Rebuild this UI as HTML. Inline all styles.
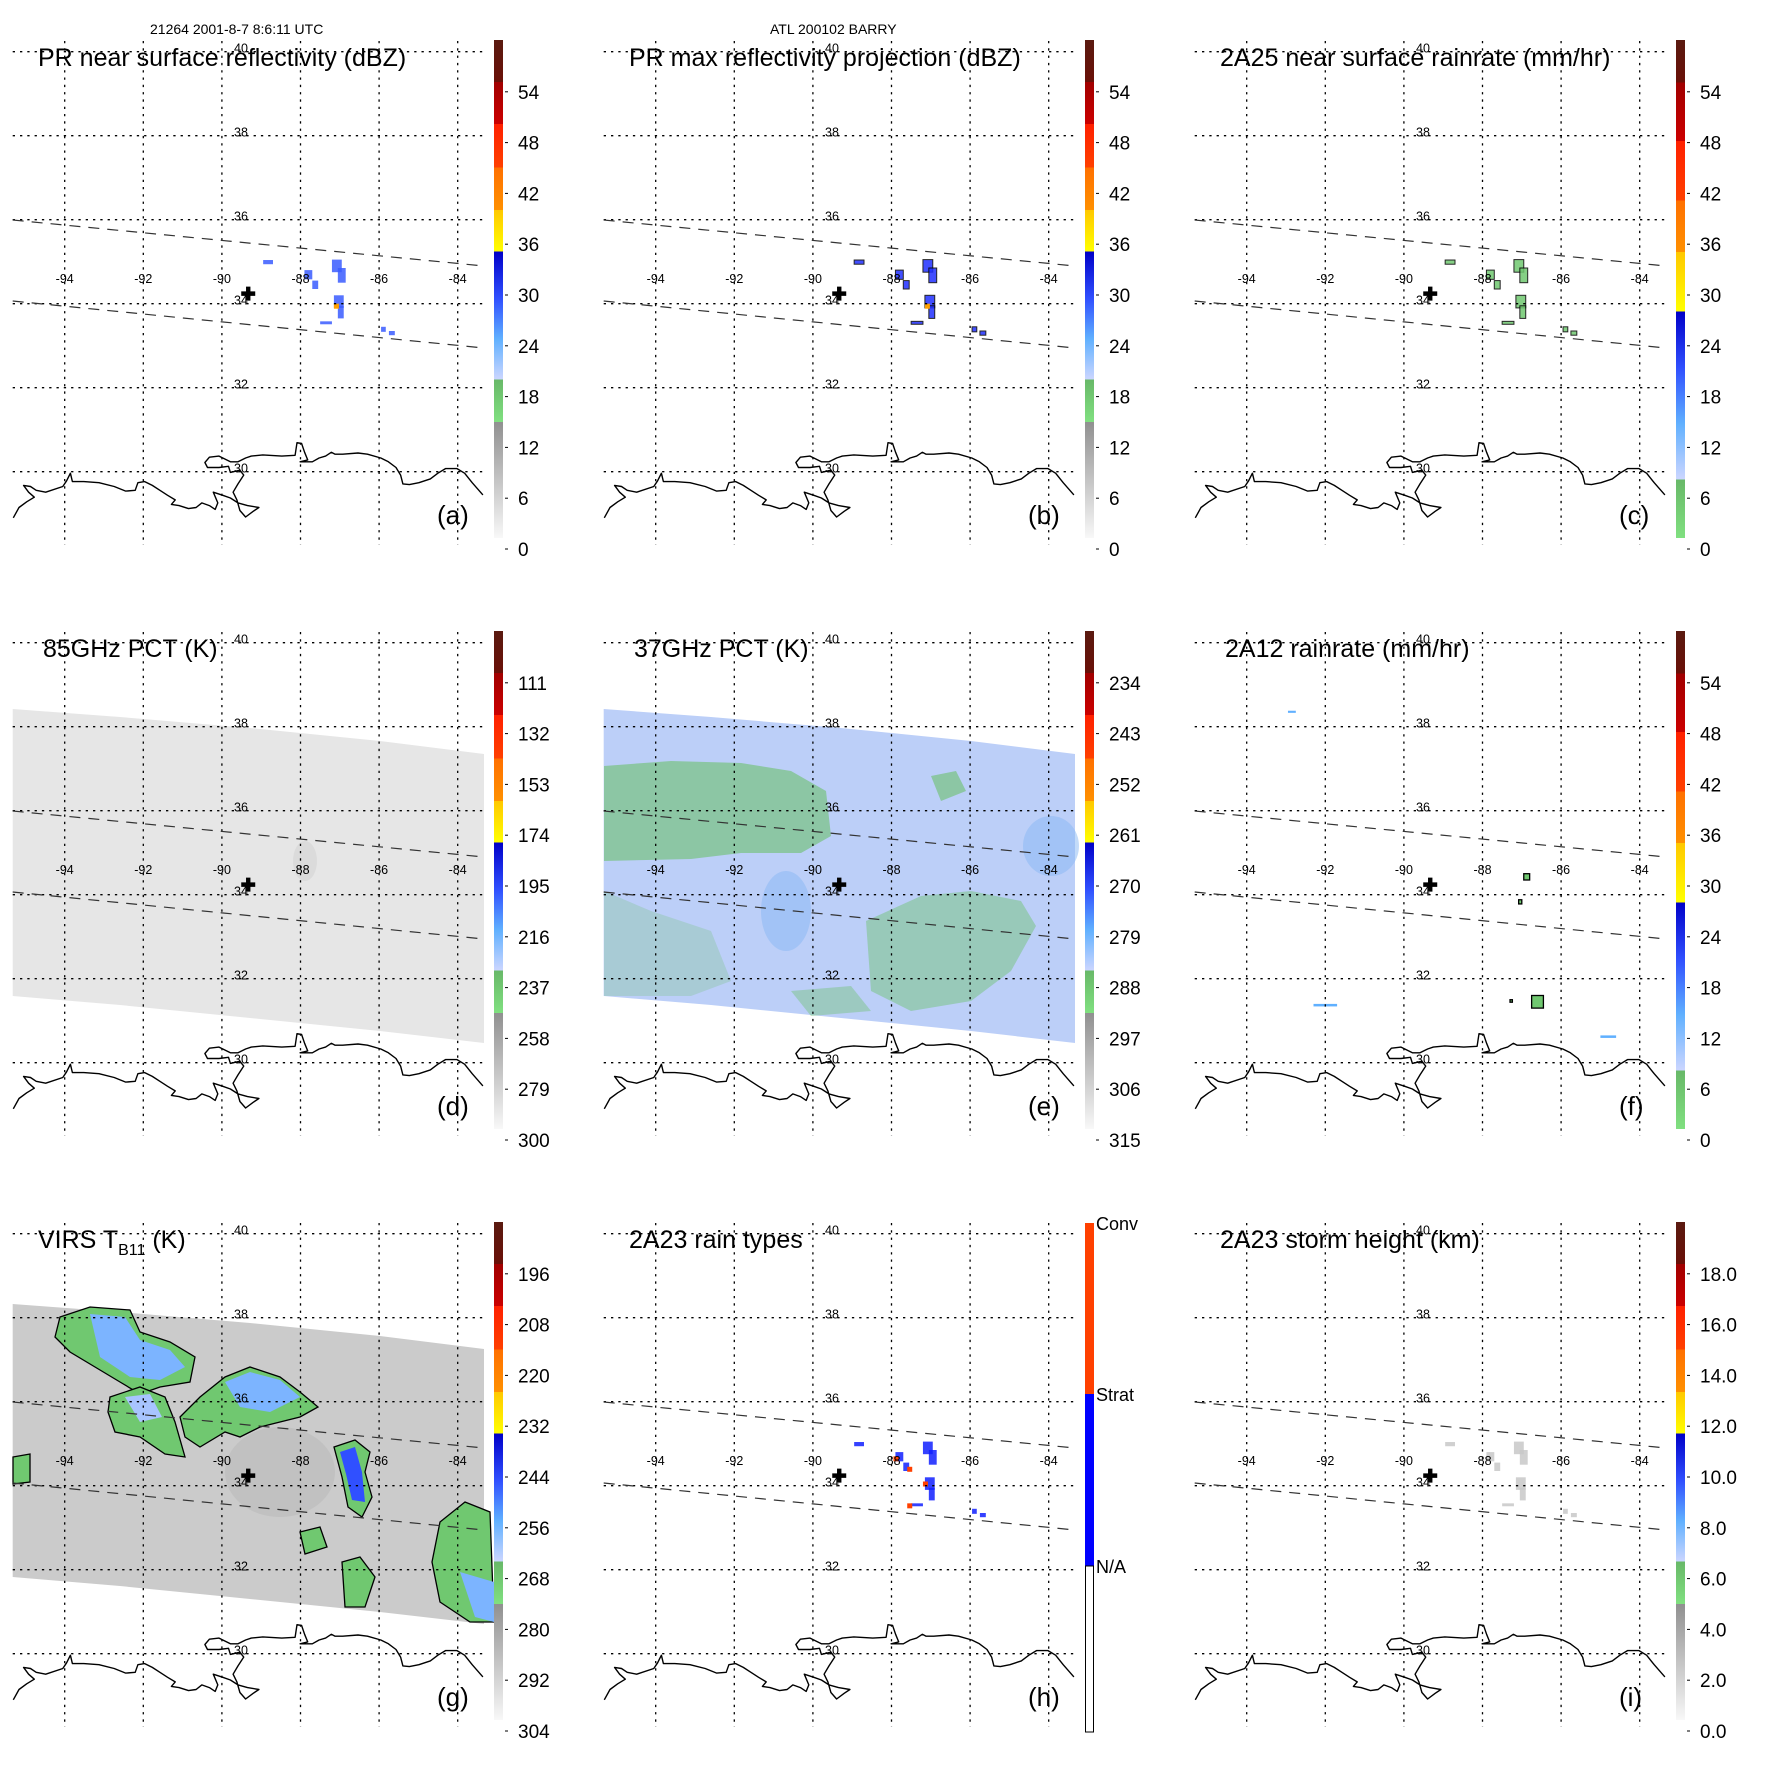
<!DOCTYPE html>
<html><head><meta charset="utf-8"><title>TRMM BARRY</title>
<style>
html,body{margin:0;padding:0;background:#fff;}
svg{display:block;font-family:"Liberation Sans",Arial,sans-serif;}
</style></head>
<body>
<svg id="fig" width="1771" height="1771" viewBox="0 0 1771 1771" xmlns="http://www.w3.org/2000/svg">
<defs>
<linearGradient id="barA" x1="0" y1="0" x2="0" y2="1">
<stop offset="0" stop-color="#5a1a10"/><stop offset="0.084" stop-color="#6a1008"/>
<stop offset="0.084" stop-color="#a00000"/><stop offset="0.169" stop-color="#cc0000"/>
<stop offset="0.169" stop-color="#ff2000"/><stop offset="0.256" stop-color="#ff4000"/>
<stop offset="0.256" stop-color="#ff7000"/><stop offset="0.341" stop-color="#ff9000"/>
<stop offset="0.341" stop-color="#ffc800"/><stop offset="0.425" stop-color="#ffff00"/>
<stop offset="0.425" stop-color="#0000c8"/><stop offset="0.52" stop-color="#3050ff"/><stop offset="0.6" stop-color="#60b0ff"/><stop offset="0.682" stop-color="#ccd6ff"/>
<stop offset="0.682" stop-color="#68b868"/><stop offset="0.767" stop-color="#80e080"/>
<stop offset="0.767" stop-color="#909090"/><stop offset="1" stop-color="#f8f8f8"/>
</linearGradient>
<linearGradient id="barC" x1="0" y1="0" x2="0" y2="1">
<stop offset="0" stop-color="#5a1a10"/><stop offset="0.085" stop-color="#6a1008"/>
<stop offset="0.085" stop-color="#a00000"/><stop offset="0.203" stop-color="#cc0000"/>
<stop offset="0.203" stop-color="#ff2000"/><stop offset="0.322" stop-color="#ff4000"/>
<stop offset="0.322" stop-color="#ff7000"/><stop offset="0.426" stop-color="#ff9000"/>
<stop offset="0.426" stop-color="#ffc800"/><stop offset="0.545" stop-color="#ffff00"/>
<stop offset="0.545" stop-color="#0000c8"/><stop offset="0.66" stop-color="#3050ff"/><stop offset="0.77" stop-color="#60b0ff"/><stop offset="0.883" stop-color="#ccd6ff"/>
<stop offset="0.883" stop-color="#68b868"/><stop offset="1" stop-color="#80e080"/>
</linearGradient>
</defs>
</svg>
<script>
// ---- data arrays ----
const lonTicks = [-94,-92,-90,-88,-86,-84];
const latTicks = [40,38,36,34,32,30];
const ticksA = ["0","6","12","18","24","30","36","42","48","54"];
const ticksD = ["300","279","258","237","216","195","174","153","132","111"];
const ticksE = ["315","306","297","288","279","270","261","252","243","234"];
const ticksG = ["304","292","280","268","256","244","232","220","208","196"];
const ticksI = ["0.0","2.0","4.0","6.0","8.0","10.0","12.0","14.0","16.0","18.0"];
const stormLon = -89.33, stormLat = 34.24;
// PR rain cells [lon, lat(top), width deg, height deg]
const prLon = [-88.95,-87.9,-87.7,-87.2,-87.05,-87.15,-87.05,-87.5,-85.95,-85.75];
const prLat = [35.04,34.8,34.55,35.05,34.85,34.2,33.95,33.58,33.45,33.35];
const prW = [0.25,0.2,0.15,0.25,0.2,0.25,0.15,0.3,0.12,0.15];
const prH = [0.1,0.22,0.2,0.3,0.35,0.3,0.3,0.07,0.12,0.1];
// 2A12 cells
const tmiLon = [-86.95,-87.08,-86.75,-87.3,-92.3,-85.0,-92.95];
const tmiLat = [34.5,33.88,31.6,31.5,31.4,30.65,38.38];
const tmiW = [0.15,0.08,0.3,0.06,0.6,0.4,0.2];
const tmiH = [0.15,0.1,0.3,0.06,0.06,0.06,0.05];
const tmiKind = ["g","g","g","g","b","b","b"];

const SVGNS="http://www.w3.org/2000/svg";
const svg=document.getElementById('fig');
function el(tag,attrs,parent){const e=document.createElementNS(SVGNS,tag);for(const k in attrs)e.setAttribute(k,attrs[k]);(parent||svg).appendChild(e);return e;}
function lonX(lon){return 64.7+(lon+94)*39.3;}
function latY(lat){return 51.7+(40-lat)*42;}
const X0=12.7,X1=484,Y0=41,Y1=545;
const coastZ=[[35,1357],[50,1330],[70,1315],[90,1303],[75,1290],[62,1272],[80,1275],[95,1285],[120,1290],[165,1275],[175,1260],[185,1240],[190,1262],[220,1262],[260,1265],[300,1275],[330,1287],[355,1285],[362,1265],[380,1262],[400,1272],[420,1285],[440,1298],[460,1310],[450,1322],[470,1325],[495,1333],[515,1330],[530,1318],[550,1325],[565,1335],[572,1318],[560,1290],[585,1298],[605,1305],[625,1318],[650,1325],[680,1330],[665,1340],[645,1355],[630,1338],[622,1310],[612,1290],[625,1268],[640,1245],[630,1232],[605,1238],[600,1222],[575,1225],[545,1225],[538,1212],[550,1198],[575,1195],[605,1210],[625,1210],[645,1200],[660,1195],[690,1192],[740,1195],[775,1193],[780,1160],[792,1162],[800,1185],[808,1205],[788,1210],[820,1210],[838,1200],[855,1195],[870,1185],[880,1190],[900,1190],[940,1187],[965,1190],[1000,1200],[1020,1210],[1040,1225],[1052,1245],[1058,1268],[1075,1270],[1100,1265],[1130,1255],[1150,1240],[1170,1228],[1200,1228],[1220,1240],[1240,1265],[1268,1297]];
const coastPts=coastZ.map(p=>(p[0]/2.626).toFixed(1)+','+(p[1]/2.626+1).toFixed(1)).join(' ');
function poly(g,pts,fill,stroke,op,name){const p=el('polygon',{points:pts.map(q=>q.join(',')).join(' '),fill:fill,stroke:stroke||'none','stroke-width':1.3,opacity:op||1},g);

return p;}

const panels=[
 {id:'a',col:0,row:0,title:'PR near surface reflectivity (dBZ)',bar:'A',ticks:ticksA,tx:38},
 {id:'b',col:1,row:0,title:'PR max reflectivity projection (dBZ)',bar:'A',ticks:ticksA,tx:38},
 {id:'c',col:2,row:0,title:'2A25 near surface rainrate (mm/hr)',bar:'C',ticks:ticksA,tx:38},
 {id:'d',col:0,row:1,title:'85GHz PCT (K)',bar:'A',ticks:ticksD,tx:43},
 {id:'e',col:1,row:1,title:'37GHz PCT (K)',bar:'A',ticks:ticksE,tx:43},
 {id:'f',col:2,row:1,title:'2A12 rainrate (mm/hr)',bar:'C',ticks:ticksA,tx:43},
 {id:'g',col:0,row:2,title:'VIRS',bar:'A',ticks:ticksG,tx:38},
 {id:'h',col:1,row:2,title:'2A23 rain types',bar:'H',ticks:null,tx:38},
 {id:'i',col:2,row:2,title:'2A23 storm height (km)',bar:'A',ticks:ticksI,tx:38}
];
const swath=[[X0,118],[120,126],[250,137],[380,150],[X1,163],[X1,452],[380,440],[250,427],[120,414],[X0,405]];

panels.forEach(P=>{
 const g=el('g',{transform:`translate(${P.col*591},${P.row*591})`});
 
 
 if(P.id==='d'){poly(g,swath,'#e6e6e6',null,1,'swath-85ghz');
   el('ellipse',{cx:305,cy:270,rx:12,ry:20,fill:'#d4d4d4',opacity:0.6},g);}
 if(P.id==='e'){poly(g,swath,'#bccff8',null,1,'swath-37ghz');
   el('ellipse',{cx:195,cy:320,rx:25,ry:40,fill:'#88b8f4',opacity:0.5},g);
   el('ellipse',{cx:460,cy:255,rx:28,ry:30,fill:'#88b8f4',opacity:0.5},g);
   poly(g,[[13,175],[80,170],[150,172],[200,180],[235,200],[240,245],[210,262],[150,262],[100,268],[13,270]],'#6cc06c',null,0.6,'green-area');
   poly(g,[[13,300],[60,320],[120,340],[140,390],[100,405],[13,405]],'#6cc06c',null,0.25,'green-area');
   poly(g,[[275,330],[330,305],[380,300],[430,310],[445,335],[420,380],[380,410],[320,420],[280,400]],'#6cc06c',null,0.45,'green-area');
   poly(g,[[340,185],[365,180],[375,200],[350,210]],'#6cc06c',null,0.6,'green-area');
   poly(g,[[200,400],[260,395],[280,420],[220,425]],'#6cc06c',null,0.4,'green-area');}
 if(P.id==='g'){poly(g,swath.map(p=>[p[0],p[1]+(p[1]<300?4:-10)]),'#cbcbcb',null,1,'swath-virs');
   el('ellipse',{cx:280,cy:290,rx:55,ry:45,fill:'#b8b8b8',opacity:0.5},g);
   const K='#000';
   poly(g,[[60,135],[90,125],[130,128],[140,150],[170,160],[195,175],[190,200],[160,205],[140,212],[120,200],[95,185],[70,170],[55,155]],'#70c870',K,1,'cloud');
   poly(g,[[90,132],[125,135],[140,158],[170,168],[185,185],[160,198],[130,195],[100,175]],'#7cb4ff',null,1,'cloud-core');
   poly(g,[[110,215],[140,205],[165,215],[175,240],[185,275],[165,272],[140,255],[115,250],[108,230]],'#70c870',K,1,'cloud');
   poly(g,[[125,215],[150,212],[162,235],[140,240]],'#a8c4ff',null,1,'cloud-core');
   poly(g,[[180,235],[200,215],[225,195],[250,185],[280,195],[300,210],[318,225],[300,235],[280,240],[260,245],[240,255],[225,250],[200,265],[185,255]],'#70c870',K,1,'cloud');
   poly(g,[[225,200],[250,190],[280,198],[300,215],[270,230],[240,225]],'#7cb4ff',null,1,'cloud-core');
   poly(g,[[334,265],[355,258],[370,270],[365,290],[372,315],[362,335],[348,325],[342,295]],'#70c870',K,1,'cloud');
   poly(g,[[340,270],[355,265],[362,290],[365,320],[352,318],[346,292]],'#3050ff',null,1,'cloud-core');
   poly(g,[[440,340],[465,320],[490,330],[494,440],[470,440],[440,420],[432,380]],'#70c870',K,1,'cloud');
   poly(g,[[460,390],[494,400],[494,440],[475,435]],'#7cb4ff',null,1,'cloud-core');
   poly(g,[[300,350],[320,345],[327,365],[305,372]],'#70c870',K,1,'cloud');
   poly(g,[[342,380],[360,375],[375,395],[365,425],[345,425]],'#70c870',K,1,'cloud');
   poly(g,[[13,275],[30,272],[30,300],[13,302]],'#70c870',K,1,'cloud');}
 if('abchi'.includes(P.id)){
  prLon.forEach((lo,k)=>{
   const fill={a:'#3a5cff',b:'#2030ff',c:'#70c870',h:'#1020ff',i:'#c8c8c8'}[P.id];
   const r=el('rect',{x:lonX(lo),y:latY(prLat[k]),width:prW[k]*39.3,height:prH[k]*42,fill:fill,stroke:(P.id==='b'||P.id==='c')?'#000':'none','stroke-width':1,opacity:0.85},g);
   
   
  });
  if(P.id==='h'){[[-87.95,34.7],[-87.6,34.45],[-87.2,34.1],[-87.6,33.58]].forEach(q=>{const r=el('rect',{x:lonX(q[0]),y:latY(q[1]),width:5,height:5,fill:'#ff4000'},g);
   
   });}
  if(P.id==='a'||P.id==='b'){const r=el('rect',{x:lonX(-87.15),y:latY(34.0),width:5,height:5,fill:'#ffa000'},g);
   
   }
 }
 if(P.id==='f'){tmiLon.forEach((lo,k)=>{const r=el('rect',{x:lonX(lo),y:latY(tmiLat[k]),width:Math.max(2,tmiW[k]*39.3),height:Math.max(2,tmiH[k]*42),fill:tmiKind[k]==='g'?'#70c870':'#60b0ff',stroke:tmiKind[k]==='g'?'#000':'none','stroke-width':1.3},g);
   
   });}
 lonTicks.forEach(lo=>{const l=el('line',{x1:lonX(lo),x2:lonX(lo),y1:Y0,y2:Y1,stroke:'#000','stroke-width':1.3,'stroke-dasharray':'2.3 5'},g);
   
   
   const t=el('text',{x:lonX(lo),y:283,'font-size':12.5,'text-anchor':'middle'},g);t.textContent=lo;
   
   });
 latTicks.forEach(la=>{const l=el('line',{x1:X0,x2:X1,y1:latY(la),y2:latY(la),stroke:'#000','stroke-width':1.3,'stroke-dasharray':'2.3 5'},g);
   
   
   const t=el('text',{x:234,y:latY(la)+1,'font-size':12.5},g);t.textContent=la;
   
   });
 [[220,266],[301,348]].forEach(s=>{const l=el('line',{x1:X0,y1:s[0],x2:X1,y2:s[1],stroke:'#333','stroke-width':1.2,'stroke-dasharray':'11 8'},g);
   
   });
 const c=el('polyline',{points:coastPts,fill:'none',stroke:'#000','stroke-width':1.4,'stroke-linejoin':'round'},g);
 
 
 const cx=lonX(stormLon),cy=latY(stormLat);
 const cr=el('path',{d:`M${cx-7},${cy-2.2}h14v4.4h-14z M${cx-2.2},${cy-7}h4.4v14h-4.4z`,fill:'#000'},g);
 
 
 const t=el('text',{x:P.tx,y:66,'font-size':25},g);
 
 
 if(P.id==='g'){t.innerHTML='VIRS T<tspan dy="7" font-size="16">B11</tspan><tspan dy="-7"> (K)</tspan>';}
 else t.textContent=P.title;
 const lb=el('text',{x:437,y:524,'font-size':26},g);lb.textContent='('+P.id+')';
 
 
 if(P.bar==='H'){
   const b1=el('rect',{x:494,y:41,width:9,height:171,fill:'#ff4000'},g);
   
   
   const b2=el('rect',{x:494,y:212,width:9,height:172,fill:'#0000ff'},g);
   
   
   const b3=el('rect',{x:494.5,y:384,width:8,height:166,fill:'#fff',stroke:'#000','stroke-width':1},g);
   
   
   [['Conv',41],['Strat',212],['N/A',384]].forEach(q=>{const tt=el('text',{x:505,y:q[1]+7,'font-size':18},g);tt.textContent=q[0];
     
     });
 } else {
   const b=el('rect',{x:494,y:40,width:9,height:498,fill:P.bar==='A'?'url(#barA)':'url(#barC)'},g);
   
   
   P.ticks.forEach((v,k)=>{const y=549-k*50.8;
     const tk=el('line',{x1:505,x2:508,y1:y,y2:y,stroke:'#000','stroke-width':1},g);
     
     
     const tt=el('text',{x:518,y:y+7,'font-size':19},g);tt.textContent=v;
     
     });
 }
});
const h1=el('text',{x:150,y:34,'font-size':14});h1.textContent='21264 2001-8-7 8:6:11 UTC';


const h2=el('text',{x:770,y:34,'font-size':14});h2.textContent='ATL 200102 BARRY';


</script>
</body></html>
